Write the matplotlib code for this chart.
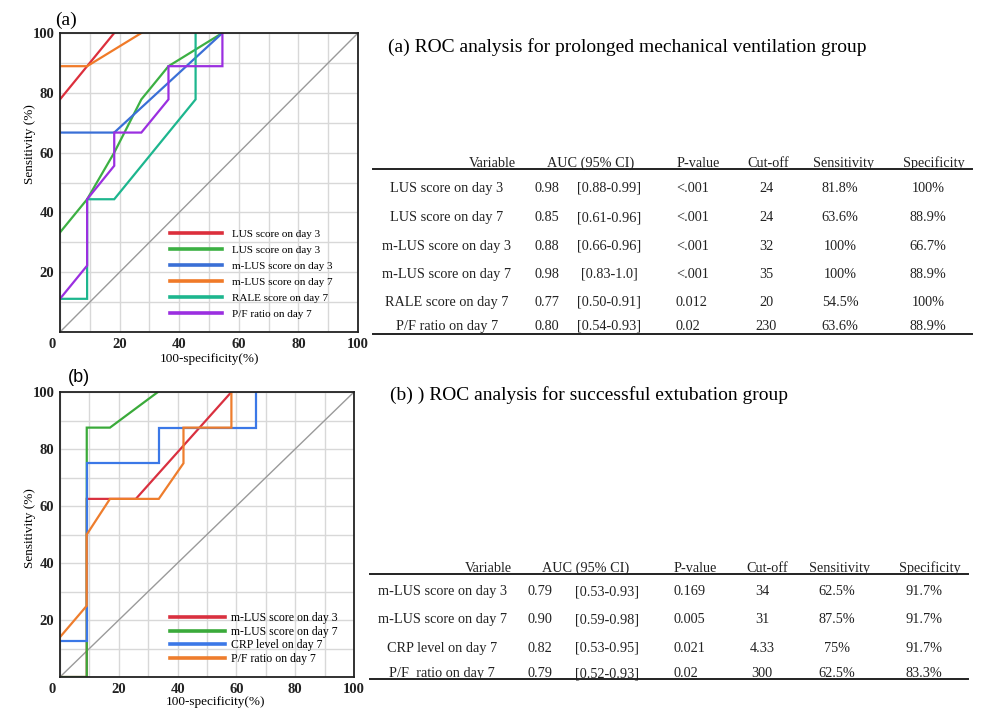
import matplotlib
matplotlib.use("Agg")
import matplotlib.pyplot as plt
from matplotlib.lines import Line2D
from matplotlib.transforms import ScaledTranslation
import numpy as np

plt.rcParams['font.family'] = ['Liberation Serif', 'DejaVu Serif']

W, H = 981, 717

# ---- (a) ROC curves, prolonged mechanical ventilation ----
a_labels = ["LUS score on day 3", "LUS score on day 3", "m-LUS score on day 3",
            "m-LUS score on day 7", "RALE score on day 7", "P/F ratio on day 7"]
a_colors = ["#dc2f3c", "#3cb043", "#3a6fd6", "#f07a28", "#1db68e", "#9b2fe0"]
a_x = [
    [0, 9.1, 18.2],
    [0, 9.1, 18.2, 27.3, 36.4, 54.5],
    [0, 18.2, 54.5],
    [0, 9.1, 27.3],
    [0, 9.1, 9.1, 18.2, 45.5, 45.5],
    [0, 9.1, 9.1, 18.2, 18.2, 27.3, 36.4, 36.4, 54.5, 54.5],
]
a_y = [
    [77.8, 88.9, 100],
    [33.3, 44.4, 60, 77.8, 88.9, 100],
    [66.7, 66.7, 100],
    [88.9, 88.9, 100],
    [11.1, 11.1, 44.4, 44.4, 77.8, 100],
    [11.1, 22.2, 44.4, 55.6, 66.7, 66.7, 77.8, 88.9, 88.9, 100],
]

# ---- (b) ROC curves, successful extubation ----
b_labels = ["m-LUS score on day 3", "m-LUS score on day 7",
            "CRP level on day 7", "P/F ratio on day 7"]
b_colors = ["#d9303f", "#3aaa3a", "#3b78e7", "#ee7d2d"]
b_x = [
    [0, 9.1, 9.1, 25.8, 58.3],
    [0, 9.1, 9.1, 17, 33.3],
    [0, 9.1, 9.1, 33.6, 33.6, 66.7, 66.7],
    [0, 9.1, 9.1, 17, 33.6, 42, 42, 58.3, 58.3],
]
b_y = [
    [0, 0, 62.5, 62.5, 100],
    [0, 0, 87.5, 87.5, 100],
    [12.5, 12.5, 75, 75, 87.5, 87.5, 100],
    [14, 25, 50, 62.5, 62.5, 75, 87.5, 87.5, 100],
]

# ---- tables ----
cols = ["Variable", "AUC (95% CI)", "P-value", "Cut-off", "Sensitivity", "Specificity"]
ta_var = ["LUS score on day 3", "LUS score on day 7", "m-LUS score on day 3",
          "m-LUS score on day 7", "RALE score on day 7", "P/F ratio on day 7"]
ta_auc = ["0.98", "0.85", "0.88", "0.98", "0.77", "0.80"]
ta_ci = ["[0.88-0.99]", "[0.61-0.96]", "[0.66-0.96]", "[0.83-1.0]", "[0.50-0.91]", "[0.54-0.93]"]
ta_p = ["<.001", "<.001", "<.001", "<.001", "0.012", "0.02"]
ta_cut = ["24", "24", "32", "35", "20", "230"]
ta_sens = ["81.8%", "63.6%", "100%", "100%", "54.5%", "63.6%"]
ta_spec = ["100%", "88.9%", "66.7%", "88.9%", "100%", "88.9%"]

tb_var = ["m-LUS score on day 3", "m-LUS score on day 7", "CRP level on day 7", "P/F  ratio on day 7"]
tb_auc = ["0.79", "0.90", "0.82", "0.79"]
tb_ci = ["[0.53-0.93]", "[0.59-0.98]", "[0.53-0.95]", "[0.52-0.93]"]
tb_p = ["0.169", "0.005", "0.021", "0.02"]
tb_cut = ["34", "31", "4.33", "300"]
tb_sens = ["62.5%", "87.5%", "75%", "62.5%"]
tb_spec = ["91.7%", "91.7%", "91.7%", "83.3%"]

fig = plt.figure(figsize=(W / 100, H / 100), dpi=100)


def ftext(x, y, s, **kw):
    fig.text(x / W, 1 - y / H, s, **kw)


def fline(x0, x1, y, lw=1.4):
    fig.add_artist(Line2D([x0 / W, x1 / W], [1 - y / H, 1 - y / H],
                          transform=fig.transFigure, color="#222222", lw=lw))


def roc_axes(rect, xs, ys, colors, labels, leg_anchor, leg_fs, leg_ls, leg_pad):
    ax = fig.add_axes([rect[0] / W, 1 - rect[3] / H, (rect[2] - rect[0]) / W, (rect[3] - rect[1]) / H])
    ax.set_xlim(0, 100)
    ax.set_ylim(0, 100)
    ax.set_xticks(np.arange(0, 101, 20))
    ax.set_yticks(np.arange(20, 101, 20))
    ax.set_xticks(np.arange(0, 101, 10), minor=True)
    ax.set_yticks(np.arange(0, 101, 10), minor=True)
    ax.grid(which="both", color="#d8d8d8", lw=1.0)
    ax.set_axisbelow(True)
    ax.tick_params(which="both", length=0, labelsize=10.5, pad=4)
    for lab in ax.get_xticklabels() + ax.get_yticklabels():
        lab.set_fontweight("bold")
        lab.set_color("#222222")
    # the origin "0" sits a little left of the corner
    first = ax.get_xticklabels()[0]
    first.set_transform(first.get_transform() + ScaledTranslation(-0.08, 0, fig.dpi_scale_trans))
    for sp in ax.spines.values():
        sp.set_linewidth(1.3)
        sp.set_color("#222222")
    ax.plot([0, 100], [0, 100], color="#9a9a9a", lw=1.0)
    for x, y, c, lab in zip(xs, ys, colors, labels):
        ax.plot(x, y, color=c, lw=1.6, label=lab, solid_joinstyle="miter")
    leg = ax.legend(loc="upper left", bbox_to_anchor=leg_anchor, frameon=False,
                    fontsize=leg_fs, handlelength=4.7, handletextpad=leg_pad,
                    labelspacing=leg_ls, borderpad=0, borderaxespad=0)
    for ln in leg.get_lines():
        ln.set_linewidth(2.6)
    return ax


roc_axes((60, 33, 358, 332), a_x, a_y, a_colors, a_labels, (0.369, 0.343), 8, 0.55, 0.9)
roc_axes((60, 392, 354, 677), b_x, b_y, b_colors, b_labels, (0.374, 0.228), 8.5, 0.14, 0.45)

# panel labels and axis titles
ftext(55, 20, "(a)", fontsize=14, va="center")
ftext(68, 377, "(b)", fontsize=13, va="center", family=["Liberation Sans", "DejaVu Sans"])
ftext(30, 144, "Sensitivity (%)", fontsize=9.5, rotation=90, ha="center", va="center")
ftext(30, 528, "Sensitivity (%)", fontsize=9.5, rotation=90, ha="center", va="center")
ftext(210, 359, "100-specificity(%)", fontsize=9.5, ha="center", va="center")
ftext(216, 702, "100-specificity(%)", fontsize=9.5, ha="center", va="center")

ftext(388, 47, "(a) ROC analysis for prolonged mechanical ventilation group", fontsize=14, va="center")
ftext(390, 395, "(b) ) ROC analysis for successful extubation group", fontsize=14, va="center")


def draw_table(hdr_y, line_y, rows_y, bottom_y, xline, hdr_x, col_x, cells):
    fs = 10.3
    # baseline alignment keeps all cells of a row level
    for name, x in zip(cols, hdr_x):
        ftext(x, hdr_y + 5, name, fontsize=fs, ha="center", va="baseline", color="#222222")
    fline(xline[0], xline[1], line_y)
    fline(xline[0], xline[1], bottom_y)
    for i, y in enumerate(rows_y):
        for j, (x, ha) in enumerate(col_x):
            ftext(x, y + 5, cells[j][i], fontsize=fs, ha=ha, va="baseline", color="#222222")


draw_table(162, 169, [187, 216, 245, 273, 301, 325], 334, (373, 972),
           [492, 591, 698, 768, 843, 934],
           [(447, "center"), (547, "center"), (609, "center"), (676, "left"),
            (766, "center"), (840, "center"), (928, "center")],
           [ta_var, ta_auc, ta_ci, ta_p, ta_cut, ta_sens, ta_spec])

draw_table(567, 574, [590, 618, 647, 672], 679, (370, 968),
           [488, 586, 695, 767, 840, 930],
           [(442, "center"), (540, "center"), (607, "center"), (673, "left"),
            (762, "center"), (837, "center"), (924, "center")],
           [tb_var, tb_auc, tb_ci, tb_p, tb_cut, tb_sens, tb_spec])

fig.savefig("out.png", dpi=100)
